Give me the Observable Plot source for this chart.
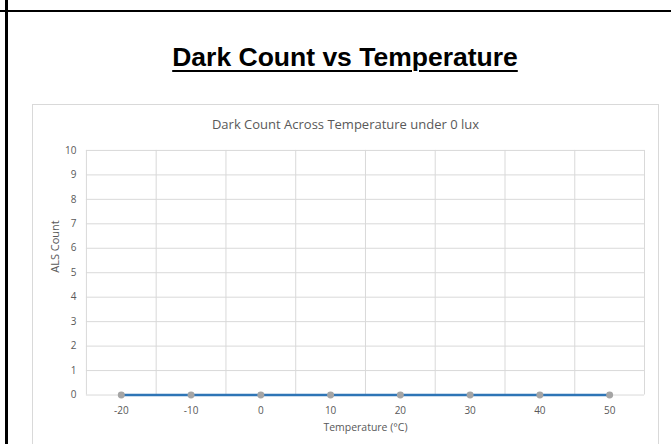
<!DOCTYPE html>
<html>
<head>
<meta charset="utf-8">
<script src="https://cdn.jsdelivr.net/npm/d3@7"></script>
<script src="https://cdn.jsdelivr.net/npm/@observablehq/plot@0.6"></script>
<style>
  html, body { margin: 0; padding: 0; background: #fff; overflow: hidden; }
  #page { position: relative; width: 671px; height: 444px; overflow: hidden; }
  .hline { position: absolute; left: 0; top: 10px; width: 671px; height: 2px; background: #000; }
  .vline { position: absolute; left: 5px; top: 0; width: 3px; height: 444px; background: #000; }
  #title { position: absolute; left: 20px; width: 650px; top: 42px; text-align: center;
           font-family: "Liberation Sans", Arial, sans-serif; font-weight: bold; font-size: 26.5px;
           color: #000; text-decoration: underline; text-decoration-thickness: 2px; text-underline-offset: 4px; line-height: 30px; }
  #box { position: absolute; left: 32px; top: 104px; width: 625px; height: 360px; border: 1px solid #d9d9d9; background: #fff; }
  #subtitle { position: absolute; left: 0; width: 625px; top: 10px; text-align: center;
              font-family: "Open Sans", sans-serif; font-size: 13px; color: #595959; line-height: 18px; }
  #chart { position: absolute; left: 0; top: 0; }
</style>
</head>
<body>
<div id="page">
  <div class="hline"></div>
  <div class="vline"></div>
  <div id="title">Dark Count vs Temperature</div>
  <div id="box">
    <div id="chart"></div>
    <div id="subtitle">Dark Count Across Temperature under 0 lux</div>
  </div>
</div>
<script>
const temperatures = [-20, -10, 0, 10, 20, 30, 40, 50];
const alsCounts = [0, 0, 0, 0, 0, 0, 0, 0];
const yTicks = [0, 1, 2, 3, 4, 5, 6, 7, 8, 9, 10];
const xTitle = "Temperature (°C)";
const yTitle = "ALS Count";

const data = temperatures.map((t, i) => ({temp: t, count: alsCounts[i]}));
// category boundaries (Excel category axis gridlines sit between categories)
const step = temperatures[1] - temperatures[0];
const boundaries = temperatures.map(t => t - step / 2).concat([temperatures[temperatures.length - 1] + step / 2]);

const chart = Plot.plot({
  width: 626,
  height: 340,
  marginLeft: 53,
  marginRight: 14,
  marginTop: 45,
  marginBottom: 50,
  style: {fontFamily: "'Open Sans', sans-serif", fontSize: "10px", color: "#595959", background: "transparent"},
  x: {domain: [boundaries[0], boundaries[boundaries.length - 1]]},
  y: {domain: [0, 10]},
  marks: [
    Plot.ruleY(yTicks, {stroke: "#d9d9d9", strokeWidth: 1}),
    Plot.ruleX(boundaries, {stroke: "#d9d9d9", strokeWidth: 1}),
    Plot.axisY(yTicks, {tickSize: 0, tickPadding: 10, fill: "#595959", label: null, fontSize: 10, tickFormat: d => String(d)}),
    Plot.axisX(temperatures, {tickSize: 0, tickPadding: 12, fill: "#595959", label: null, fontSize: 10, tickFormat: d => String(d)}),
    Plot.text([xTitle], {frameAnchor: "bottom", dy: 33, fill: "#595959", fontSize: 10.5, lineAnchor: "middle"}),
    Plot.text([yTitle], {frameAnchor: "left", dx: -31, rotate: -90, fill: "#595959", fontSize: 11, lineAnchor: "middle"}),
    Plot.line(data, {x: "temp", y: "count", stroke: "#2e75b6", strokeWidth: 2.5}),
    Plot.dot(data, {x: "temp", y: "count", r: 3.5, fill: "#a5a5a5", stroke: "none"})
  ]
});
document.getElementById("chart").appendChild(chart);
</script>
</body>
</html>
